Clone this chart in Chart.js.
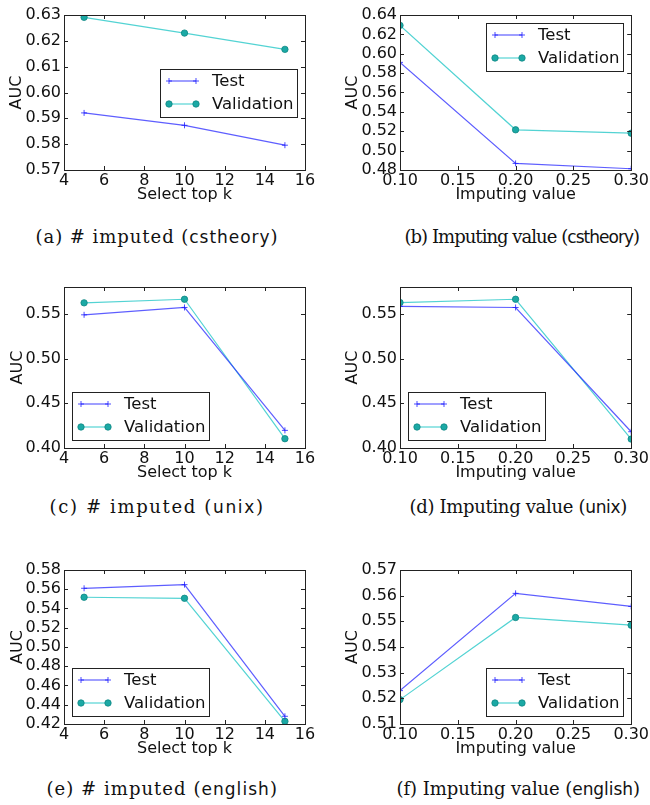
<!DOCTYPE html>
<html>
<head>
<meta charset="utf-8">
<script src="https://cdn.jsdelivr.net/npm/chart.js@4.4.0/dist/chart.umd.min.js"></script>
<style>
body { margin: 0; background: #fff; }
#fig { position: relative; width: 650px; height: 805px; overflow: hidden; }
.painel { position: absolute; }
.legenda { position: absolute; height: 24px; line-height: 24px; white-space: nowrap;
    font-family: 'DejaVu Serif', serif; font-size: 18px; color: #111; }
.legenda span { font-family: 'DejaVu Sans', sans-serif; font-size: 17px; }
</style>
</head>
<body>
<div id="fig">
    <div class="painel" id="pA"><canvas id="cA"></canvas></div>
    <div class="painel" id="pB"><canvas id="cB"></canvas></div>
    <div class="painel" id="pC"><canvas id="cC"></canvas></div>
    <div class="painel" id="pD"><canvas id="cD"></canvas></div>
    <div class="painel" id="pE"><canvas id="cE"></canvas></div>
    <div class="painel" id="pF"><canvas id="cF"></canvas></div>
    <div class="legenda" id="capA">(a) # imputed (<span>cstheory</span>)</div>
    <div class="legenda" id="capB">(b) Imputing value (<span>cstheory</span>)</div>
    <div class="legenda" id="capC">(c) # imputed (<span>unix</span>)</div>
    <div class="legenda" id="capD">(d) Imputing value (<span>unix</span>)</div>
    <div class="legenda" id="capE">(e) # imputed (<span>english</span>)</div>
    <div class="legenda" id="capF">(f) Imputing value (<span>english</span>)</div>
</div>
<script>
// x values
var topK = [5, 10, 15];
var imputingValues = [0.1, 0.2, 0.3];
var topKTicks = [4, 6, 8, 10, 12, 14, 16];
var imputingTicks = [0.10, 0.15, 0.20, 0.25, 0.30];

// (a) cstheory, top k
var testA = [0.5921, 0.5873, 0.5796];
var validA = [0.6291, 0.6230, 0.6167];
var ticksA = [0.57, 0.58, 0.59, 0.60, 0.61, 0.62, 0.63];

// (b) cstheory, imputing value
var testB = [0.5911, 0.4868, 0.4813];
var validB = [0.6293, 0.5215, 0.5180];
var ticksB = [0.48, 0.50, 0.52, 0.54, 0.56, 0.58, 0.60, 0.62, 0.64];

// (c) unix, top k
var testC = [0.5489, 0.5571, 0.4197];
var validC = [0.5623, 0.5663, 0.4104];
var ticksC = [0.40, 0.45, 0.50, 0.55];

// (d) unix, imputing value
var testD = [0.5584, 0.5571, 0.4182];
var validD = [0.5626, 0.5663, 0.4100];
var ticksD = [0.40, 0.45, 0.50, 0.55];

// (e) english, top k
var testE = [0.5610, 0.5648, 0.4280];
var validE = [0.5517, 0.5506, 0.4228];
var ticksE = [0.42, 0.44, 0.46, 0.48, 0.50, 0.52, 0.54, 0.56, 0.58];

// (f) english, imputing value
var testF = [0.5230, 0.5609, 0.5558];
var validF = [0.5195, 0.5515, 0.5485];
var ticksF = [0.51, 0.52, 0.53, 0.54, 0.55, 0.56, 0.57];

Chart.defaults.font.family = "'DejaVu Sans', sans-serif";
Chart.defaults.font.size = 16;
Chart.defaults.color = '#111';

function pontos(xs, ys) {
    var lista = [];
    for (var i = 0; i < xs.length; i++) {
        lista.push({ x: xs[i], y: ys[i] });
    }
    return lista;
}

function desenharMarcador(ctx, tipo, x, y) {
    if (tipo == 'cross') {
        ctx.strokeStyle = 'rgba(30, 30, 255, 0.8)';
        ctx.lineWidth = 1;
        ctx.beginPath();
        ctx.moveTo(x - 3, y); ctx.lineTo(x + 3, y);
        ctx.moveTo(x, y - 3); ctx.lineTo(x, y + 3);
        ctx.stroke();
    } else {
        ctx.fillStyle = '#1ba9a5';
        ctx.strokeStyle = '#0f8783';
        ctx.lineWidth = 0.8;
        ctx.beginPath();
        ctx.arc(x, y, 3.2, 0, Math.PI * 2);
        ctx.fill();
        ctx.stroke();
    }
}

// frame, inward ticks and the boxed legend (matplotlib look)
var moldura = {
    id: 'moldura',
    afterDraw: function (chart, args, opts) {
        var ctx = chart.ctx;
        var a = chart.chartArea;
        var sx = chart.scales.x;
        var sy = chart.scales.y;
        ctx.save();
        ctx.strokeStyle = '#222';
        ctx.lineWidth = 1;
        ctx.beginPath();
        sx.ticks.forEach(function (t) {
            var px = Math.round(sx.getPixelForValue(t.value)) + 0.5;
            ctx.moveTo(px, a.bottom); ctx.lineTo(px, a.bottom - 4);
            ctx.moveTo(px, a.top); ctx.lineTo(px, a.top + 4);
        });
        sy.ticks.forEach(function (t) {
            var py = Math.round(sy.getPixelForValue(t.value)) + 0.5;
            ctx.moveTo(a.left, py); ctx.lineTo(a.left + 4, py);
            ctx.moveTo(a.right, py); ctx.lineTo(a.right - 4, py);
        });
        ctx.stroke();
        ctx.strokeRect(Math.round(a.left) + 0.5, Math.round(a.top) + 0.5, Math.round(a.right - a.left), Math.round(a.bottom - a.top));

        var w = 137, h = 48, pad = 8;
        var x, y;
        if (opts.loc.indexOf('right') >= 0) x = a.right - pad - w; else x = a.left + pad;
        if (opts.loc.indexOf('upper') == 0) y = a.top + pad;
        else if (opts.loc.indexOf('lower') == 0) y = a.bottom - pad - h;
        else y = (a.top + a.bottom) / 2 - h / 2;
        x = Math.round(x); y = Math.round(y);
        ctx.fillStyle = '#fff';
        ctx.fillRect(x, y, w, h);
        ctx.strokeStyle = '#222';
        ctx.strokeRect(x + 0.5, y + 0.5, w, h);

        chart.data.datasets.forEach(function (ds, i) {
            var cy = y + 12 + i * 23;
            ctx.strokeStyle = ds.borderColor;
            ctx.lineWidth = ds.borderWidth;
            ctx.beginPath();
            ctx.moveTo(x + 9, cy); ctx.lineTo(x + 36, cy);
            ctx.stroke();
            desenharMarcador(ctx, ds.pointStyle, x + 9, cy);
            desenharMarcador(ctx, ds.pointStyle, x + 36, cy);
            ctx.fillStyle = '#111';
            ctx.font = "16.5px 'DejaVu Sans', sans-serif";
            ctx.textAlign = 'left';
            ctx.textBaseline = 'middle';
            ctx.fillText(ds.label, x + 52, cy + 1);
        });
        ctx.restore();
    }
};

function criarPainel(p) {
    var div = document.getElementById('p' + p.id);
    var canvas = document.getElementById('c' + p.id);
    var canvasH = p.plotBottom + 45 - p.top;
    div.style.left = p.left + 'px';
    div.style.top = p.top + 'px';
    div.style.width = '325px';
    div.style.height = canvasH + 'px';
    canvas.width = 325;
    canvas.height = canvasH;
    canvas.style.width = '325px';
    canvas.style.height = canvasH + 'px';

    // caption: stretch to the width it has in the figure
    var cap = document.getElementById('cap' + p.id);
    var largura = cap.offsetWidth;
    var n = cap.textContent.length;
    cap.style.letterSpacing = ((p.capW - largura) / n) + 'px';
    largura = cap.offsetWidth;
    cap.style.left = (p.capX - largura / 2) + 'px';
    cap.style.top = (p.capY - 12) + 'px';

    var formatoX = p.xDec ? function (v) { return v.toFixed(2); } : function (v) { return String(v); };

    new Chart(canvas, {
        type: 'line',
        data: {
            datasets: [{
                label: 'Test',
                data: pontos(p.xs, p.test),
                borderColor: 'rgba(40, 40, 255, 0.75)',
                borderWidth: 1.2,
                pointStyle: 'cross',
                pointRadius: 3,
                pointBorderWidth: 1,
                pointBorderColor: 'rgba(30, 30, 255, 0.8)',
                tension: 0
            }, {
                label: 'Validation',
                data: pontos(p.xs, p.valid),
                borderColor: 'rgba(40, 200, 200, 0.8)',
                borderWidth: 1.2,
                pointStyle: 'circle',
                pointRadius: 3.2,
                pointBackgroundColor: '#1ba9a5',
                pointBorderColor: '#0f8783',
                pointBorderWidth: 0.8,
                tension: 0
            }]
        },
        options: {
            responsive: false,
            maintainAspectRatio: false,
            animation: false,
            events: [],
            layout: { padding: { top: p.plotTop - p.top, right: p.left + 325 - p.plotRight, left: 0, bottom: 0 } },
            plugins: {
                legend: { display: false },
                tooltip: { enabled: false },
                moldura: { loc: p.loc }
            },
            scales: {
                x: {
                    type: 'linear',
                    min: p.xTicks[0],
                    max: p.xTicks[p.xTicks.length - 1],
                    afterBuildTicks: function (s) { s.ticks = p.xTicks.map(function (v) { return { value: v }; }); },
                    afterFit: function (s) { s.height = 45; },
                    grid: { display: false, drawTicks: false },
                    border: { display: false },
                    ticks: { autoSkip: false, maxRotation: 0, padding: 1, color: '#111', callback: formatoX },
                    title: { display: true, text: p.xTitle, color: '#111', padding: { top: 0, bottom: 10.4 } }
                },
                y: {
                    type: 'linear',
                    min: p.yTicks[0],
                    max: p.yMax,
                    afterBuildTicks: function (s) { s.ticks = p.yTicks.map(function (v) { return { value: v }; }); },
                    afterFit: function (s) { s.width = p.plotLeft - p.left; },
                    grid: { display: false, drawTicks: false },
                    border: { display: false },
                    ticks: { autoSkip: false, padding: 3, color: '#111', callback: function (v) { return v.toFixed(2); } },
                    title: { display: true, text: 'AUC', color: '#111', padding: { top: p.auc - p.left - 9.6, bottom: 0 } }
                }
            }
        },
        plugins: [moldura]
    });
}

var paineis = [
    { id: 'A', left: 0, top: 0, plotLeft: 64, plotTop: 15, plotRight: 305, plotBottom: 170, auc: 17,
      xs: topK, xTicks: topKTicks, xDec: false, xTitle: 'Select top k', test: testA, valid: validA, yTicks: ticksA, yMax: 0.63,
      loc: 'center right', capX: 157, capY: 237, capW: 243 },
    { id: 'B', left: 325, top: 0, plotLeft: 400, plotTop: 15, plotRight: 632, plotBottom: 170, auc: 353,
      xs: imputingValues, xTicks: imputingTicks, xDec: true, xTitle: 'Imputing value', test: testB, valid: validB, yTicks: ticksB, yMax: 0.64,
      loc: 'upper right', capX: 522, capY: 237, capW: 235 },
    { id: 'C', left: 0, top: 270, plotLeft: 64, plotTop: 287, plotRight: 305, plotBottom: 448, auc: 18,
      xs: topK, xTicks: topKTicks, xDec: false, xTitle: 'Select top k', test: testC, valid: validC, yTicks: ticksC, yMax: 0.58,
      loc: 'lower left', capX: 157, capY: 507, capW: 215 },
    { id: 'D', left: 325, top: 270, plotLeft: 400, plotTop: 287, plotRight: 632, plotBottom: 448, auc: 353,
      xs: imputingValues, xTicks: imputingTicks, xDec: true, xTitle: 'Imputing value', test: testD, valid: validD, yTicks: ticksD, yMax: 0.58,
      loc: 'lower left', capX: 518, capY: 507, capW: 217 },
    { id: 'E', left: 0, top: 540, plotLeft: 64, plotTop: 570, plotRight: 305, plotBottom: 724, auc: 18,
      xs: topK, xTicks: topKTicks, xDec: false, xTitle: 'Select top k', test: testE, valid: validE, yTicks: ticksE, yMax: 0.58,
      loc: 'lower left', capX: 162, capY: 789, capW: 231 },
    { id: 'F', left: 325, top: 540, plotLeft: 400, plotTop: 570, plotRight: 632, plotBottom: 724, auc: 353,
      xs: imputingValues, xTicks: imputingTicks, xDec: true, xTitle: 'Imputing value', test: testF, valid: validF, yTicks: ticksF, yMax: 0.57,
      loc: 'lower right', capX: 518, capY: 789, capW: 243 }
];

paineis.forEach(function (p) {
    criarPainel(p);
});
</script>
</body>
</html>
